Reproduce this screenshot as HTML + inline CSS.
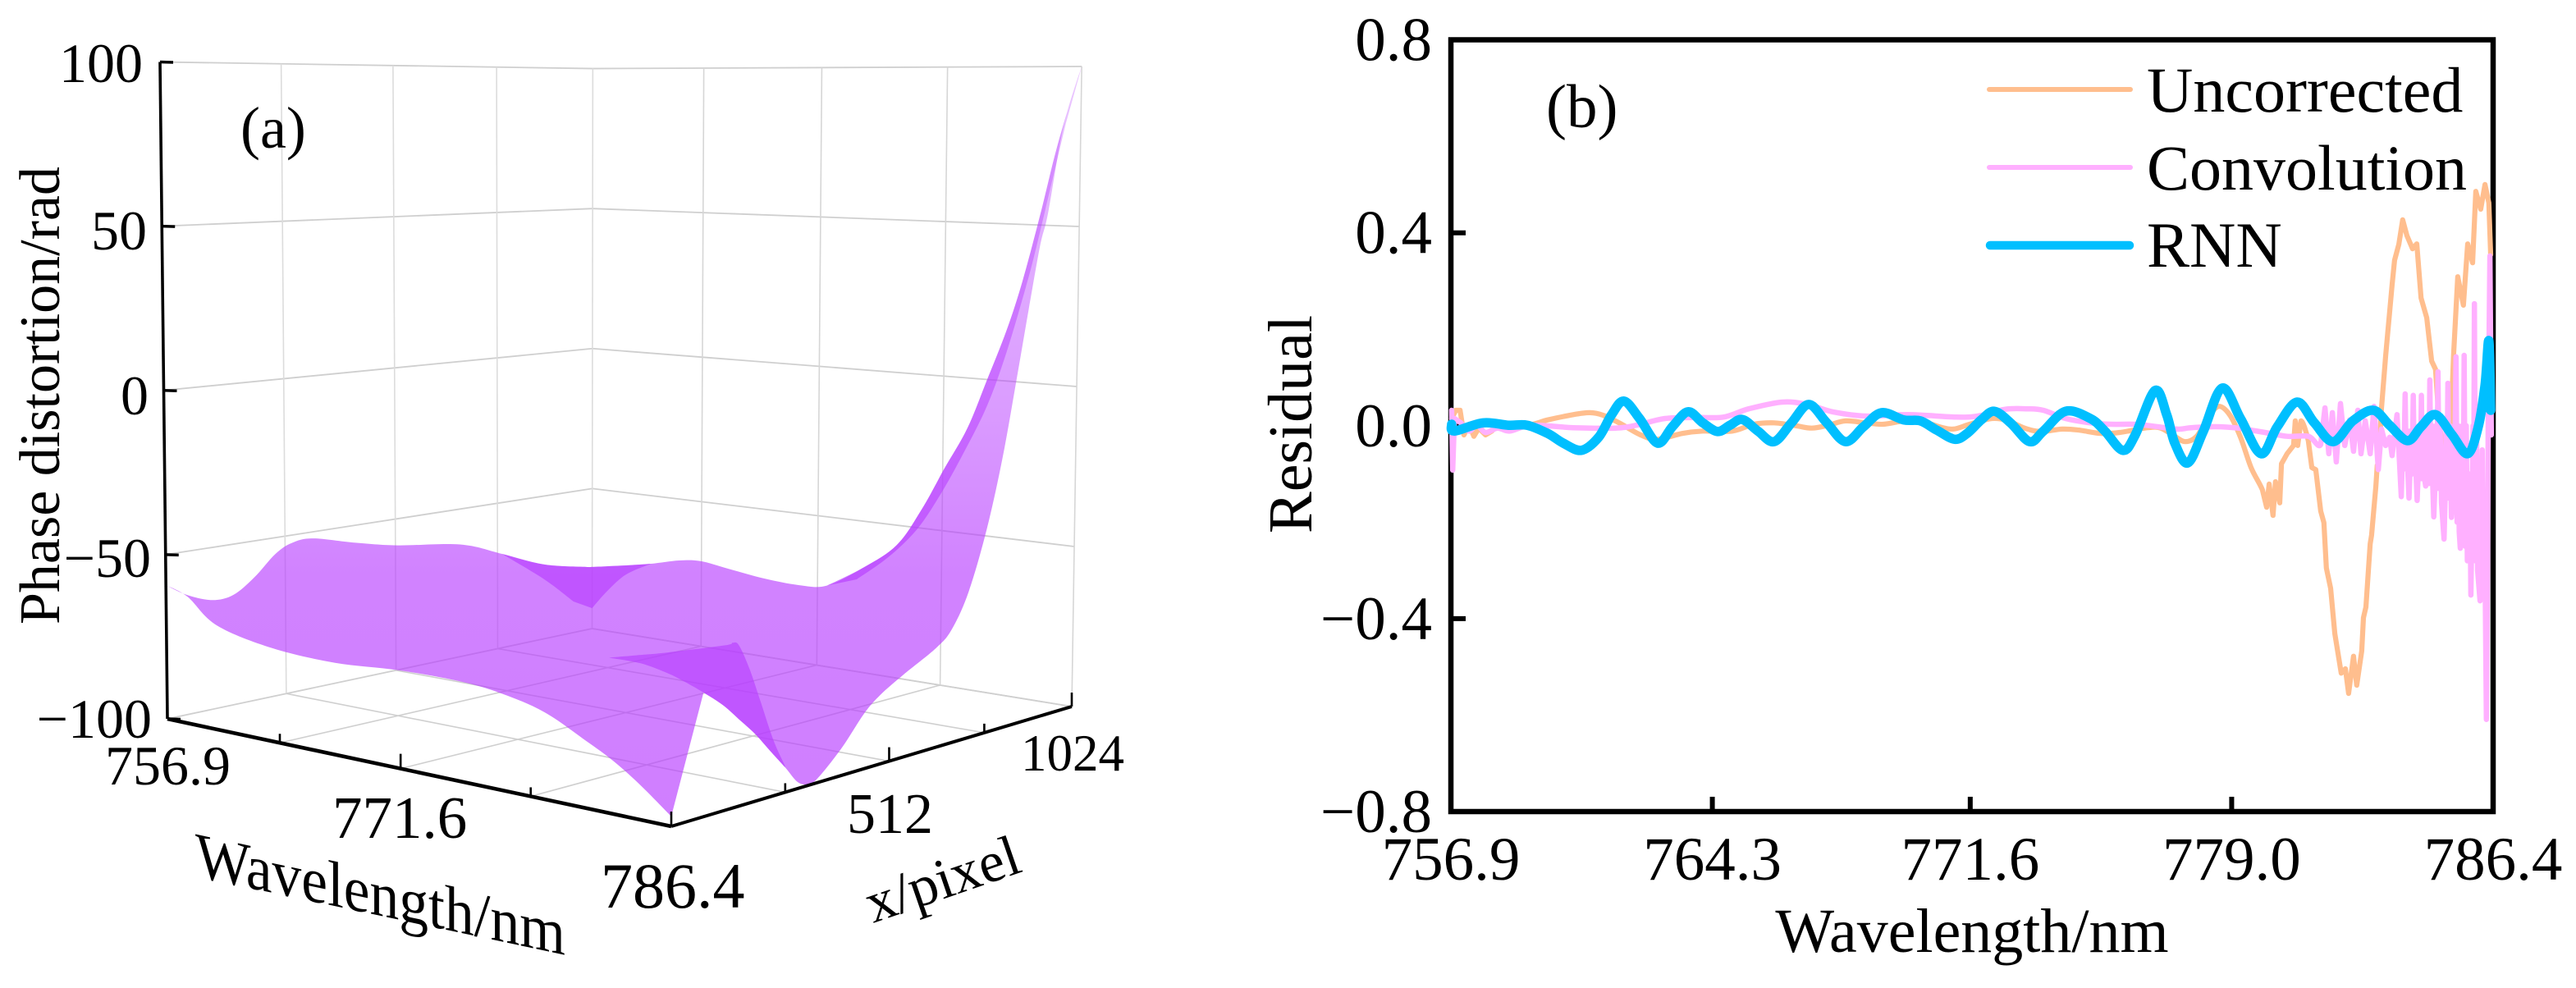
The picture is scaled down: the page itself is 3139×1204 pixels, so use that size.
<!DOCTYPE html>
<html lang="en">
<head>
<meta charset="utf-8">
<title>Phase distortion surface and residual comparison</title>
<style>
html,body{margin:0;padding:0;background:#fff;}
svg{display:block;}
text{font-family:"Liberation Serif",serif;fill:#000;}
</style>
</head>
<body>
<svg id="figure" xmlns="http://www.w3.org/2000/svg" width="3139" height="1204" viewBox="0 0 3139 1204">
<defs>
<linearGradient id="surfaceFill" gradientUnits="userSpaceOnUse" x1="0" y1="80" x2="0" y2="1000">
<stop offset="0" stop-color="rgb(183,60,255)" stop-opacity="0.28"/>
<stop offset="0.24" stop-color="rgb(183,60,255)" stop-opacity="0.42"/>
<stop offset="0.435" stop-color="rgb(183,60,255)" stop-opacity="0.5"/>
<stop offset="0.674" stop-color="rgb(183,60,255)" stop-opacity="0.64"/>
<stop offset="1" stop-color="rgb(183,60,255)" stop-opacity="0.66"/>
</linearGradient>
</defs>
<rect width="3139" height="1204" fill="#fff"/>

<g id="panelA">
<g id="gridA"></g>
<g id="surfaceA"></g>
<g id="axesA"></g>
<text x="293" y="180" font-size="72">(a)</text>
<text x="174" y="100" font-size="68" text-anchor="end">100</text>
<text x="179" y="304" font-size="68" text-anchor="end">50</text>
<text x="181" y="505" font-size="68" text-anchor="end">0</text>
<text x="184" y="703" font-size="68" text-anchor="end">−50</text>
<text x="185" y="899" font-size="68" text-anchor="end">−100</text>
<text x="128" y="956" font-size="68">756.9</text>
<text x="405" y="1021" font-size="73">771.6</text>
<text x="732" y="1106" font-size="78">786.4</text>
<text x="1032" y="1015" font-size="70">512</text>
<text x="1244" y="939" font-size="63">1024</text>
<text transform="translate(72,761) rotate(-90)" font-size="70">Phase distortion/rad</text>
<text transform="translate(238,1068) skewY(12) scale(1,1.1)" font-size="71.5">Wavelength/nm</text>
<text transform="translate(1064,1125) rotate(-19)" font-size="70">x/pixel</text>
</g>

<g id="panelB">
<rect x="1768" y="48.5" width="1270" height="940.5" fill="none" stroke="#000" stroke-width="6.5"/>
<g id="ticksB"></g>
<g id="seriesB"></g>
<text x="1884" y="155" font-size="75">(b)</text>
<text x="2403" y="1160" font-size="76" text-anchor="middle">Wavelength/nm</text>
<text transform="translate(1598,650) rotate(-90)" font-size="76">Residual</text>
<g>
<line x1="2424" y1="109" x2="2596" y2="109" stroke="#FFBE8E" stroke-width="6" stroke-linecap="round"/>
<text x="2616" y="136" font-size="78">Uncorrected</text>
<line x1="2424" y1="204" x2="2596" y2="204" stroke="#FFB0FF" stroke-width="6" stroke-linecap="round"/>
<text x="2616" y="231" font-size="78">Convolution</text>
<line x1="2425" y1="299" x2="2595" y2="299" stroke="#00BFFF" stroke-width="10.5" stroke-linecap="round"/>
<text x="2616" y="325" font-size="78">RNN</text>
</g>
</g>
</svg>

<script>
/* ---------- Panel (a): surface edge readings ---------- */
const wavelengthTicksA = [756.9, 764.275, 771.65, 779.025, 786.4];
const pixelTicksA = [0, 256, 512, 768, 1024];
const phaseTicksA = [-100, -50, 0, 50, 100];

const leftEdgePixel = [0,44,97,142,187,234,271,319,417,517,672,780,892,1007];
const leftEdgePhase = [-59.3,-63.4,-66.3,-65.8,-61.5,-55.2,-52.5,-52.1,-55.7,-58.8,-62,-67.7,-74,-77.6];

const backEdgeWavelength = [756.9,759.25,760.93,762.8,764.21,766.03,768.3,770.52,772.25,774.49,776.4,777.81,779.1,780.4,781.44,782.52,783.38,784.3,785.1,785.9,786.4];
const backEdgePhase = [-78,-75.7,-73.9,-71.4,-70.6,-71.9,-73.5,-74.1,-72.9,-65.1,-56.5,-44.2,-30.1,-16.2,-0.7,16,32.2,53.6,73.7,90.7,100];

const rightEdgePixel = [0,69,93,116,133,147.5,172,198,228,255,286,314,339,394,447,488,546,633,675,720,768,809,846,879,909,931,973,1024];
const rightEdgePhase = [-97.4,-67.2,-59.5,-56,-55.8,-56.9,-64,-73.7,-85,-92.7,-98.3,-99.7,-98.3,-92,-84.4,-80.3,-76.3,-70.9,-66.5,-56.5,-39,-18.9,4.2,25.7,44.8,54.7,81.6,100];

const foldPixel = [255,223,185,147.5,111,69,26];
const foldPhase = [-93.1,-88,-81.8,-76.6,-71.7,-67.2,-63];

const frontEdgeWavelength = [756.9,758.35,760.27,763.85,767.75,771.55,775.16,777.5,779.79,781.98,783.44,784.82,786.4];
const frontEdgePhase = [-59.3,-61.7,-68.8,-72.6,-73.5,-72.3,-72.3,-73.6,-76.5,-82,-86,-90.9,-97.4];

const wedgeRiseWavelength = [760.93,759.25,757.96,756.9];
const wedgeRisePhase = [-73.9,-78.9,-85.7,-92.7];
const wedgeDropPixel = [972,892,780];
const wedgeDropPhase = [-89,-79.2,-67.7];

const stripLowerWavelength = [785.6,784.11,783.56,782.53,781.49,780.18,778.9,777.57,775.91,774.04];
const stripLowerPhase = [82.2,43.3,30.2,8.9,-8.5,-24.5,-38.5,-50.6,-60.8,-69.5];

const spikeUpperWavelength = [783.2,784.82,786.19];
const spikeUpperPhase = [-58.8,-56.7,-54.9];
const spikeLowerWavelength = [786.19,784.82,783.2];
const spikeLowerPhase = [-60.3,-58.9,-58.8];

/* ---------- Panel (b): residual series ---------- */
const xTicksB = [756.9,764.3,771.6,779.0,786.4];
const xTickLabelsB = ['756.9','764.3','771.6','779.0','786.4'];
const yTicksB = [0.8,0.4,0,-0.4,-0.8];
const yTickLabelsB = ['0.8','0.4','0.0','−0.4','−0.8'];

const uncorrectedWavelength = [756.92,757.04,757.16,757.27,757.41,757.55,757.69,757.88,758.06,758.22,759.06,759.64,760.36,760.83,761.2,761.66,762.27,762.73,763.45,764.03,764.87,765.47,766.05,766.66,767.12,767.58,768.07,768.65,769.14,769.72,770.19,770.72,771.12,771.58,772.21,772.67,773.14,773.6,774.2,774.67,775.3,775.83,776.62,776.99,777.39,777.69,778.01,778.32,778.62,778.94,779.25,779.55,779.87,779.99,780.06,780.17,780.24,780.36,780.41,780.57,780.75,780.8,780.87,780.96,781.17,781.27,781.38,781.52,781.61,781.68,781.8,781.92,782.1,782.22,782.31,782.45,782.54,782.68,782.73,782.8,782.92,782.96,783.08,783.12,783.15,783.24,783.36,783.54,783.61,783.73,783.84,783.96,784.12,784.24,784.36,784.52,784.66,784.77,784.87,785.01,785.12,785.21,785.28,785.4,785.56,785.68,785.82,785.91,786.05,786.17,786.28,786.33];
const uncorrectedResidual = [0.015,0.032,0.032,-0.019,0.003,-0.022,-0.005,-0.019,-0.011,0.001,0.001,0.012,0.023,0.027,0.022,0.006,-0.019,-0.028,-0.016,-0.011,-0.011,0.003,0.006,0,-0.005,0.001,0.01,0.006,0.003,0.01,0.01,-0.002,-0.007,0.003,0.015,0.01,-0.005,-0.012,-0.007,-0.009,-0.016,-0.014,-0.004,-0.005,-0.022,-0.033,-0.022,0.015,0.04,0.023,-0.024,-0.087,-0.133,-0.169,-0.121,-0.186,-0.116,-0.16,-0.079,-0.058,-0.041,0.01,-0.041,0.01,-0.031,-0.087,-0.091,-0.177,-0.201,-0.295,-0.337,-0.431,-0.513,-0.504,-0.555,-0.478,-0.538,-0.467,-0.398,-0.376,-0.245,-0.227,-0.126,-0.082,-0.087,0.037,0.146,0.292,0.343,0.376,0.427,0.394,0.367,0.377,0.265,0.224,0.134,0.117,0.01,-0.07,-0.036,0.01,0.146,0.309,0.25,0.377,0.338,0.486,0.449,0.5,0.462,0.355];

const convolutionWavelength = [756.92,756.95,757,757.18,757.41,757.64,757.88,758.22,758.57,759.18,760.36,761.55,762.15,762.96,763.91,764.63,765.33,766.28,767,767.7,768.65,769.84,771.19,771.81,772.58,773.21,773.67,774.3,775,775.6,776.23,776.69,777.46,777.85,778.55,779.18,779.94,780.57,781.17,781.52,781.64,781.75,781.85,781.96,782.08,782.2,782.34,782.45,782.57,782.66,782.78,782.92,783.03,783.15,783.24,783.36,783.47,783.54,783.68,783.8,783.84,783.87,783.91,783.94,783.96,783.99,784.02,784.05,784.08,784.11,784.14,784.17,784.19,784.22,784.25,784.28,784.31,784.34,784.37,784.4,784.43,784.46,784.49,784.52,784.55,784.58,784.61,784.64,784.67,784.695,784.72,784.75,784.78,784.81,784.84,784.87,784.9,784.94,785.01,785.04,785.07,785.09,785.12,785.15,785.18,785.22,785.25,785.3,785.35,785.38,785.41,785.44,785.47,785.5,785.53,785.555,785.58,785.61,785.64,785.67,785.71,785.74,785.77,785.8,785.83,785.85,785.87,785.9,785.93,785.96,786.03,786.06,786.09,786.12,786.16,786.21,786.24,786.26,786.31,786.35];
const convolutionResidual = [0.032,-0.092,0.015,0.006,-0.011,0.001,-0.014,-0.005,-0.011,0.001,-0.004,-0.005,0.001,0.015,0.017,0.018,0.035,0.049,0.044,0.029,0.02,0.023,0.018,0.02,0.034,0.035,0.032,0.015,0.006,0.003,0.003,0,-0.007,-0.004,-0.002,-0.005,-0.014,-0.022,-0.022,-0.039,0.037,-0.058,0.027,-0.075,0.046,-0.041,0.012,-0.053,0.032,-0.058,0.01,-0.058,0.04,-0.091,-0.007,-0.041,-0.024,-0.062,0.023,-0.147,-0.04,-0.09,0.066,-0.09,-0.01,-0.1,-0.15,-0.09,-0.01,-0.1,0.063,-0.1,-0.01,-0.1,-0.155,-0.1,-0.01,-0.11,0.063,-0.11,-0.005,-0.11,-0.125,-0.11,-0.005,-0.12,0.095,-0.12,0,-0.13,-0.189,-0.13,0,-0.13,0.112,-0.13,0,-0.16,-0.235,-0.15,0,-0.15,0.088,-0.15,0,-0.19,-0.16,-0.16,0.143,-0.2,0,-0.22,-0.254,-0.2,0,-0.2,0.146,-0.25,0,-0.28,-0.2,-0.1,-0.351,-0.2,0,-0.2,0.253,-0.28,0,-0.3,-0.363,-0.25,-0.05,-0.3,-0.2,-0.609,-0.3,0,0.352,-0.019];

const rnnWavelength = [756.92,757,757.81,758.53,759.06,759.64,760.08,760.59,761.08,761.45,761.8,762.24,762.75,763.17,763.61,764.03,764.45,764.8,765.15,765.59,766.05,766.54,767.03,767.54,768.07,768.58,769.09,769.72,770.19,770.65,771.16,771.51,771.91,772.28,772.74,773.28,773.67,774.3,775,775.41,775.92,776.27,776.83,777.16,777.39,777.76,778.2,778.73,779.25,779.83,780.29,780.85,781.34,781.87,782.43,783.01,783.47,783.98,784.36,784.77,785.24,785.68,785.98,786.17,786.28,786.33];
const rnnResidual = [0.003,-0.011,0.006,0.001,0.001,-0.016,-0.036,-0.051,-0.024,0.023,0.051,0.015,-0.036,-0.002,0.029,0.006,-0.012,0.001,0.013,-0.011,-0.033,0.006,0.044,0.006,-0.033,-0.002,0.027,0.012,0.01,-0.009,-0.028,-0.016,0.012,0.03,0.006,-0.033,-0.011,0.03,0.015,-0.011,-0.051,-0.019,0.073,0.023,-0.036,-0.077,-0.011,0.078,0.015,-0.058,-0.002,0.049,0.006,-0.033,0.01,0.032,0.001,-0.031,-0.002,0.023,-0.019,-0.058,-0.002,0.083,0.176,0.032];

/* ---------- helpers ---------- */
const NS = 'http://www.w3.org/2000/svg';
function addSvg(parent, tag, props) {
  const el = document.createElementNS(NS, tag);
  for (const k in props) el.setAttribute(k, props[k]);
  parent.appendChild(el);
  return el;
}
function addSegment(parent, a, b, width, color) {
  return addSvg(parent, 'line', {x1:a[0], y1:a[1], x2:b[0], y2:b[1], stroke:color, 'stroke-width':width});
}
/* Catmull-Rom through points; segments shorter than maxStraight stay straight */
function curveThrough(p, maxStraight) {
  let d = '';
  for (let i = 0; i < p.length-1; i++) {
    const a = p[Math.max(i-1,0)], b = p[i], c = p[i+1], e = p[Math.min(i+2,p.length-1)];
    if (Math.abs(c[0]-b[0]) < maxStraight) {
      d += ' L'+c[0].toFixed(1)+' '+c[1].toFixed(1);
      continue;
    }
    const c1x = b[0]+(c[0]-a[0])/6, c1y = b[1]+(c[1]-a[1])/6;
    const c2x = c[0]-(e[0]-b[0])/6, c2y = c[1]-(e[1]-b[1])/6;
    d += ' C'+c1x.toFixed(1)+' '+c1y.toFixed(1)+' '+c2x.toFixed(1)+' '+c2y.toFixed(1)+' '+c[0].toFixed(1)+' '+c[1].toFixed(1);
  }
  return d;
}
/* closed region made of smooth runs joined by sharp corners */
function regionPath(runs) {
  let d = 'M'+runs[0][0][0].toFixed(1)+' '+runs[0][0][1].toFixed(1);
  runs.forEach(function (run,i) {
    if (i > 0) d += ' L'+run[0][0].toFixed(1)+' '+run[0][1].toFixed(1);
    d += curveThrough(run, 0);
  });
  return d+' Z';
}

/* ---------- Panel (a) projection ---------- */
const LAMBDA_MIN = 756.9, LAMBDA_MAX = 786.4, PIXEL_MAX = 1024;
const floorL = [204,876], floorF = [818,1007], floorR = [1306,861], floorB = [721.5,766];
const dx1 = floorF[0]-floorR[0], dx2 = floorB[0]-floorR[0], sumX = floorL[0]-floorF[0]+floorR[0]-floorB[0];
const dy1 = floorF[1]-floorR[1], dy2 = floorB[1]-floorR[1], sumY = floorL[1]-floorF[1]+floorR[1]-floorB[1];
const det = dx1*dy2-dx2*dy1;
const persG = (sumX*dy2-dx2*sumY)/det, persH = (dx1*sumY-sumX*dy1)/det;
function project(lambda, pixel, phase) {
  const u = (lambda-LAMBDA_MIN)/(LAMBDA_MAX-LAMBDA_MIN), v = pixel/PIXEL_MAX;
  const d = 1+persG*u+persH*v;
  const fx = ((floorF[0]-floorL[0]+persG*floorF[0])*u+(floorB[0]-floorL[0]+persH*floorB[0])*v+floorL[0])/d;
  const fy = ((floorF[1]-floorL[1]+persG*floorF[1])*u+(floorB[1]-floorL[1]+persH*floorB[1])*v+floorL[1])/d;
  const heightAt = (5.7*u-4.7*v+800.5)/d;
  const leanAt = (11.5*u+10*v-9)/d;
  const w = (phase+100)/200;
  return [fx+leanAt*w, fy-heightAt*w];
}

/* grid */
const gridA = document.getElementById('gridA');
const GRID = '#cfcfcf';
phaseTicksA.forEach(function (z) {
  const wallL = addSegment(gridA, project(LAMBDA_MIN,0,z), project(LAMBDA_MIN,PIXEL_MAX,z), 1.8, GRID);
  
  
  const wallR = addSegment(gridA, project(LAMBDA_MIN,PIXEL_MAX,z), project(LAMBDA_MAX,PIXEL_MAX,z), 1.8, GRID);
  
  
});
pixelTicksA.slice(1).forEach(function (p) {
  const vert = addSegment(gridA, project(LAMBDA_MIN,p,-100), project(LAMBDA_MIN,p,100), 1.6, '#dcdcdc');
  
  
  const flr = addSegment(gridA, project(LAMBDA_MIN,p,-100), project(LAMBDA_MAX,p,-100), 1.6, GRID);
  
  
});
wavelengthTicksA.slice(1).forEach(function (l) {
  const vert = addSegment(gridA, project(l,PIXEL_MAX,-100), project(l,PIXEL_MAX,100), 1.6, '#d6d6d6');
  
  
  const flr = addSegment(gridA, project(l,0,-100), project(l,PIXEL_MAX,-100), 1.6, GRID);
  
  
});

/* surface */
const surfaceA = document.getElementById('surfaceA');
function onLeft(px, ph) { return px.map(function (p,i){ return project(LAMBDA_MIN,p,ph[i]); }); }
function onBack(la, ph) { return la.map(function (l,i){ return project(l,PIXEL_MAX,ph[i]); }); }
function onRight(px, ph) { return px.map(function (p,i){ return project(LAMBDA_MAX,p,ph[i]); }); }
function onFront(la, ph) { return la.map(function (l,i){ return project(l,0,ph[i]); }); }

const leftPts = onLeft(leftEdgePixel, leftEdgePhase);
const backPts = onBack(backEdgeWavelength, backEdgePhase);
const rightPts = onRight(rightEdgePixel, rightEdgePhase);
const foldPts = onRight(foldPixel, foldPhase);
const frontPts = onFront(frontEdgeWavelength, frontEdgePhase);

const mainRegion = regionPath([
  leftPts.concat(backPts),
  rightPts.slice(10).reverse().concat(foldPts.slice(0,6)),
  frontPts.slice().reverse()
]);
const mainSheet = addSvg(surfaceA, 'path', {d:mainRegion, fill:'url(#surfaceFill)'});



const wedgeRegion = regionPath([
  leftPts.slice(11).concat(backPts.slice(0,3)),
  onBack(wedgeRiseWavelength, wedgeRisePhase),
  onLeft(wedgeDropPixel, wedgeDropPhase)
]);
const wedgeSheet = addSvg(surfaceA, 'path', {d:wedgeRegion, fill:'url(#surfaceFill)'});



const stripRegion = regionPath([
  backPts.slice(8),
  onBack(stripLowerWavelength, stripLowerPhase)
]);
const stripSheet = addSvg(surfaceA, 'path', {d:stripRegion, fill:'url(#surfaceFill)'});



const spikeRegion = regionPath([
  onFront(spikeUpperWavelength, spikeUpperPhase).concat(rightPts.slice(3,10)),
  foldPts.concat(onFront(spikeLowerWavelength, spikeLowerPhase))
]);
const spikeSheet = addSvg(surfaceA, 'path', {d:spikeRegion, fill:'rgb(183,60,255)', 'fill-opacity':'0.62'});



/* axes */
const axesA = document.getElementById('axesA');
const zAxis = addSegment(axesA, project(LAMBDA_MIN,0,100), project(LAMBDA_MIN,0,-100), 3.6, '#000');


const wlAxis = addSegment(axesA, project(LAMBDA_MIN,0,-100), project(LAMBDA_MAX,0,-100), 4.6, '#000');


const pxAxis = addSegment(axesA, project(LAMBDA_MAX,0,-100), project(LAMBDA_MAX,PIXEL_MAX,-100), 4, '#000');


phaseTicksA.forEach(function (z) {
  const p = project(LAMBDA_MIN,0,z);
  const t = addSegment(axesA, p, [p[0]+16,p[1]+0.5], 3.6, '#000');
  
  
});
wavelengthTicksA.forEach(function (l,i) {
  const p = project(l,0,-100);
  const t = addSegment(axesA, p, [p[0],p[1]-(i%2?11:18)], 2.6, '#000');
  
  
});
pixelTicksA.slice(1).forEach(function (q,i) {
  const p = project(LAMBDA_MAX,q,-100);
  const t = addSegment(axesA, p, [p[0],p[1]-(i%2?17:11)], 2.6, '#000');
  
  
});

/* ---------- Panel (b) ---------- */
function xB(lambda) { return 1768+(lambda-756.9)*(1270/29.5); }
function yB(value) { return 518.8-value*587.7; }
const ticksB = document.getElementById('ticksB');
yTicksB.forEach(function (v,i) {
  if (Math.abs(v) < 0.8) {
    const t = addSegment(ticksB, [xB(756.9),yB(v)], [xB(756.9)+18,yB(v)], 6, '#000');
    
    
  }
  const lab = addSvg(ticksB, 'text', {x:1745, y:yB(v)+25, 'font-size':75, 'text-anchor':'end'});
  lab.textContent = yTickLabelsB[i];
  
  
});
xTicksB.forEach(function (l,i) {
  if (i > 0 && i < xTicksB.length-1) {
    const t = addSegment(ticksB, [xB(l),yB(-0.8)], [xB(l),yB(-0.8)-18], 6, '#000');
    
    
  }
  const lab = addSvg(ticksB, 'text', {x:xB(l), y:1072, 'font-size':75, 'text-anchor':'middle'});
  lab.textContent = xTickLabelsB[i];
  
  
});

function seriesPath(la, val, maxStraight) {
  const p = la.map(function (l,i){ return [xB(l), yB(val[i])]; });
  return 'M'+p[0][0].toFixed(1)+' '+p[0][1].toFixed(1)+curveThrough(p, maxStraight);
}
const seriesB = document.getElementById('seriesB');
const lineUncorrected = addSvg(seriesB, 'path', {d:seriesPath(uncorrectedWavelength, uncorrectedResidual, 9), fill:'none', stroke:'#FFBE8E', 'stroke-width':6.2, 'stroke-linejoin':'round', 'stroke-linecap':'round'});


const lineConvolution = addSvg(seriesB, 'path', {d:seriesPath(convolutionWavelength, convolutionResidual, 9), fill:'none', stroke:'#FFB0FF', 'stroke-width':6.5, 'stroke-linejoin':'round', 'stroke-linecap':'round'});


const lineRnn = addSvg(seriesB, 'path', {d:seriesPath(rnnWavelength, rnnResidual, 0), fill:'none', stroke:'#00BFFF', 'stroke-width':11.5, 'stroke-linejoin':'round', 'stroke-linecap':'round'});


</script>
</body>
</html>
